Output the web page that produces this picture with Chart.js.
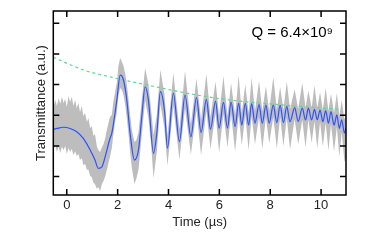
<!DOCTYPE html>
<html>
<head>
<meta charset="utf-8">
<script src="https://cdn.jsdelivr.net/npm/chart.js@4.4.1/dist/chart.umd.min.js"></script>
<style>
  html, body { margin: 0; padding: 0; background: #fff; }
  canvas { display: block; }
</style>
</head>
<body>
<canvas id="ringdown" width="392" height="241"></canvas>
<script>
// averaged transmission (blue)
const timeUs = [-0.53,-0.39,-0.13,0.13,0.39,0.65,0.92,1.11,1.24,1.38,1.51,1.70,1.77,1.97,2.10,2.23,2.36,2.49,2.66,2.82,
  2.95,3.08,3.21,3.41,3.54,3.68,3.84,3.96,4.19,4.43,4.65,4.88,5.10,5.28,5.49,5.65,5.85,5.99,6.16,6.32,
  6.46,6.62,6.76,6.88,7.02,7.15,7.27,7.40,7.56,7.69,7.83,7.96,8.12,8.26,8.39,8.52,8.65,8.78,8.96,9.10,
  9.26,9.39,9.50,9.63,9.74,9.85,9.96,10.07,10.18,10.29,10.39,10.51,10.62,10.72,10.81,10.92,10.98];
const avgSignal = [1.54,1.57,1.61,1.57,1.46,1.25,0.87,0.54,0.27,0.32,0.65,1.25,1.41,2.50,3.31,3.15,2.50,1.42,0.54,0.87,
  1.95,2.93,2.50,0.76,1.41,2.77,2.17,0.93,2.72,1.14,2.66,1.30,2.58,1.44,2.52,1.54,2.46,1.57,2.42,1.58,
  2.43,1.63,2.40,1.68,2.39,1.68,2.38,1.74,2.35,1.74,2.33,1.74,2.33,1.76,2.32,1.76,2.29,1.79,2.25,1.80,
  2.23,1.85,2.23,1.85,2.19,1.85,2.17,1.79,2.15,1.74,2.12,1.68,2.01,1.57,1.85,1.42,1.58];

// raw single-shot trace (grey), kept as upper / lower edge of the band
const rawTime = [-0.53,-0.45,-0.39,-0.32,-0.26,-0.19,-0.13,-0.06,0.00,0.07,0.13,0.20,0.26,0.33,0.39,0.46,0.52,0.59,0.65,0.72,
  0.79,0.85,0.92,0.98,1.05,1.11,1.18,1.24,1.31,1.38,1.44,1.51,1.57,1.64,1.70,
  1.77,1.83,1.90,1.97,2.03,2.10,2.17,2.23,2.30,2.36,2.43,2.49,2.56,2.66,2.74,2.82,2.95,3.08,3.21,3.31,
  3.41,3.54,3.68,3.84,3.96,4.19,4.43,4.65,4.88,5.10,5.28,5.49,5.65,5.85,5.99,6.16,6.32,
  6.46,6.62,6.76,6.88,7.02,7.15,7.27,7.40,7.56,7.69,7.83,7.96,8.12,8.26,8.39,8.52,8.65,8.78,8.96,9.10,
  9.26,9.39,9.50,9.63,9.74,9.85,9.96,10.07,10.18,10.29,10.39,10.51,10.62,10.72,10.81,10.92,10.98];
const rawHigh = [2.24,2.50,2.30,2.56,2.37,2.60,2.40,2.53,2.27,2.63,2.43,2.60,2.30,2.50,2.24,2.40,2.11,2.30,1.98,2.07,
  1.78,1.91,1.58,1.65,1.32,1.39,1.00,0.87,0.80,0.95,1.05,1.25,1.50,1.75,1.95,
  2.01,2.43,2.76,3.08,3.61,3.87,3.74,3.61,3.35,3.02,2.50,2.01,1.52,1.13,1.19,1.45,2.50,3.54,3.02,2.24,
  1.36,2.01,3.48,2.69,1.32,3.38,1.55,3.45,1.71,3.20,1.85,3.35,1.94,3.10,1.98,3.28,1.98,
  3.05,2.01,3.30,2.07,3.00,2.07,3.22,2.14,3.12,2.14,2.95,2.14,3.25,2.17,2.92,2.17,3.10,2.20,2.85,2.20,
  3.05,2.24,2.80,2.24,2.98,2.24,2.75,2.17,2.90,2.14,2.70,2.07,2.72,1.98,2.50,1.85,2.11];
const rawLow = [0.87,1.03,0.80,1.00,0.77,0.97,0.87,1.00,0.74,0.93,0.80,0.90,0.70,0.83,0.67,0.74,0.54,0.61,0.38,0.41,
  0.22,0.22,0.02,-0.01,-0.21,-0.24,-0.40,-0.34,-0.47,-0.24,-0.15,0.00,0.20,0.45,0.65,
  0.93,1.36,1.78,2.11,2.63,2.89,2.82,2.66,2.33,1.91,1.36,0.80,0.28,-0.24,-0.05,0.22,1.36,2.50,1.91,1.13,
  -0.05,0.80,2.37,1.58,0.35,2.30,0.55,2.24,0.72,2.17,0.70,2.14,0.90,2.07,0.78,2.04,0.95,
  2.04,0.82,2.01,1.02,2.01,0.85,1.98,1.05,1.94,0.90,1.94,1.08,1.94,0.92,1.94,1.00,1.91,0.88,1.88,1.05,
  1.85,0.95,1.85,1.10,1.81,0.92,1.78,0.98,1.75,0.85,1.71,0.82,1.62,0.65,1.45,0.48,0.61];

// exponential decay fit (green dashed)
const fitTime = [-0.53,0.65,1.97,3.15,5.11,6.39,7.71,9.02,10.72];
const fitEnvelope = [3.89,3.48,3.20,2.99,2.66,2.50,2.39,2.30,2.19];

const xTicks = [0, 2, 4, 6, 8, 10];
const yTicks = [0, 1, 2, 3, 4, 5];
const qLabel = 'Q = 6.4×10⁹';

const FONT = '"Liberation Sans", Arial, sans-serif';
const pts = (xs, ys) => xs.map((x, i) => ({ x: x, y: ys[i] }));

// frame, inward ticks on all four sides, and the Q annotation
const frameAndTicks = {
  id: 'frameAndTicks',
  afterDatasetsDraw(chart) {
    const { ctx, chartArea: a, scales: { x, y } } = chart;
    ctx.save();
    ctx.strokeStyle = '#000';
    ctx.lineWidth = 1.5;
    ctx.strokeRect(a.left, a.top, a.right - a.left, a.bottom - a.top);
    ctx.beginPath();
    xTicks.forEach(v => {
      const px = x.getPixelForValue(v);
      ctx.moveTo(px, a.bottom); ctx.lineTo(px, a.bottom - 6);
      ctx.moveTo(px, a.top); ctx.lineTo(px, a.top + 6);
    });
    yTicks.forEach(v => {
      const py = y.getPixelForValue(v);
      ctx.moveTo(a.left, py); ctx.lineTo(a.left + 6, py);
      ctx.moveTo(a.right, py); ctx.lineTo(a.right - 6, py);
    });
    ctx.stroke();
    ctx.fillStyle = '#000';
    ctx.font = '15px ' + FONT;
    ctx.textAlign = 'right';
    ctx.textBaseline = 'middle';
    ctx.fillText(qLabel, a.right - 13, a.top + 22);
    ctx.restore();
  }
};

new Chart(document.getElementById('ringdown'), {
  type: 'line',
  data: {
    datasets: [
      { data: pts(timeUs, avgSignal), borderColor: '#2b52ff', borderWidth: 1.2, pointRadius: 0,
        cubicInterpolationMode: 'monotone', fill: false, order: 0 },
      { data: pts(fitTime, fitEnvelope), borderColor: '#5ad994', borderWidth: 1.2, borderDash: [3, 3],
        pointRadius: 0, cubicInterpolationMode: 'monotone', fill: false, order: 1 },
      { data: pts(rawTime, rawHigh), borderWidth: 0, borderColor: 'rgba(0,0,0,0)', pointRadius: 0, tension: 0,
        backgroundColor: '#bdbdbd', fill: '+1', order: 2 },
      { data: pts(rawTime, rawLow), borderWidth: 0, borderColor: 'rgba(0,0,0,0)', pointRadius: 0, tension: 0,
        fill: false, order: 3 }
    ]
  },
  options: {
    responsive: false,
    animation: false,
    devicePixelRatio: 1,
    layout: { padding: { top: 11, right: 46, left: 0, bottom: 0 } },
    plugins: { legend: { display: false }, tooltip: { enabled: false } },
    scales: {
      x: {
        type: 'linear', min: -0.53, max: 10.98,
        afterBuildTicks: s => { s.ticks = xTicks.map(v => ({ value: v })); },
        afterFit: s => { s.height = 46; },
        grid: { display: false, drawTicks: false },
        border: { display: false },
        ticks: { padding: 3, color: '#222', font: { family: FONT, size: 13 } },
        title: { display: true, text: 'Time (µs)', color: '#222', font: { family: FONT, size: 13 },
          padding: { top: 0, bottom: 11 } }
      },
      y: {
        type: 'linear', min: -0.6, max: 5.4,
        afterBuildTicks: s => { s.ticks = yTicks.map(v => ({ value: v })); },
        afterFit: s => { s.width = 53.3; },
        grid: { display: false, drawTicks: false },
        border: { display: false },
        ticks: { display: false },
        title: { display: true, text: 'Transmittance (a.u.)', color: '#222', font: { family: FONT, size: 13 },
          padding: { top: 34, bottom: 0 } }
      }
    }
  },
  plugins: [frameAndTicks]
});
</script>
</body>
</html>
